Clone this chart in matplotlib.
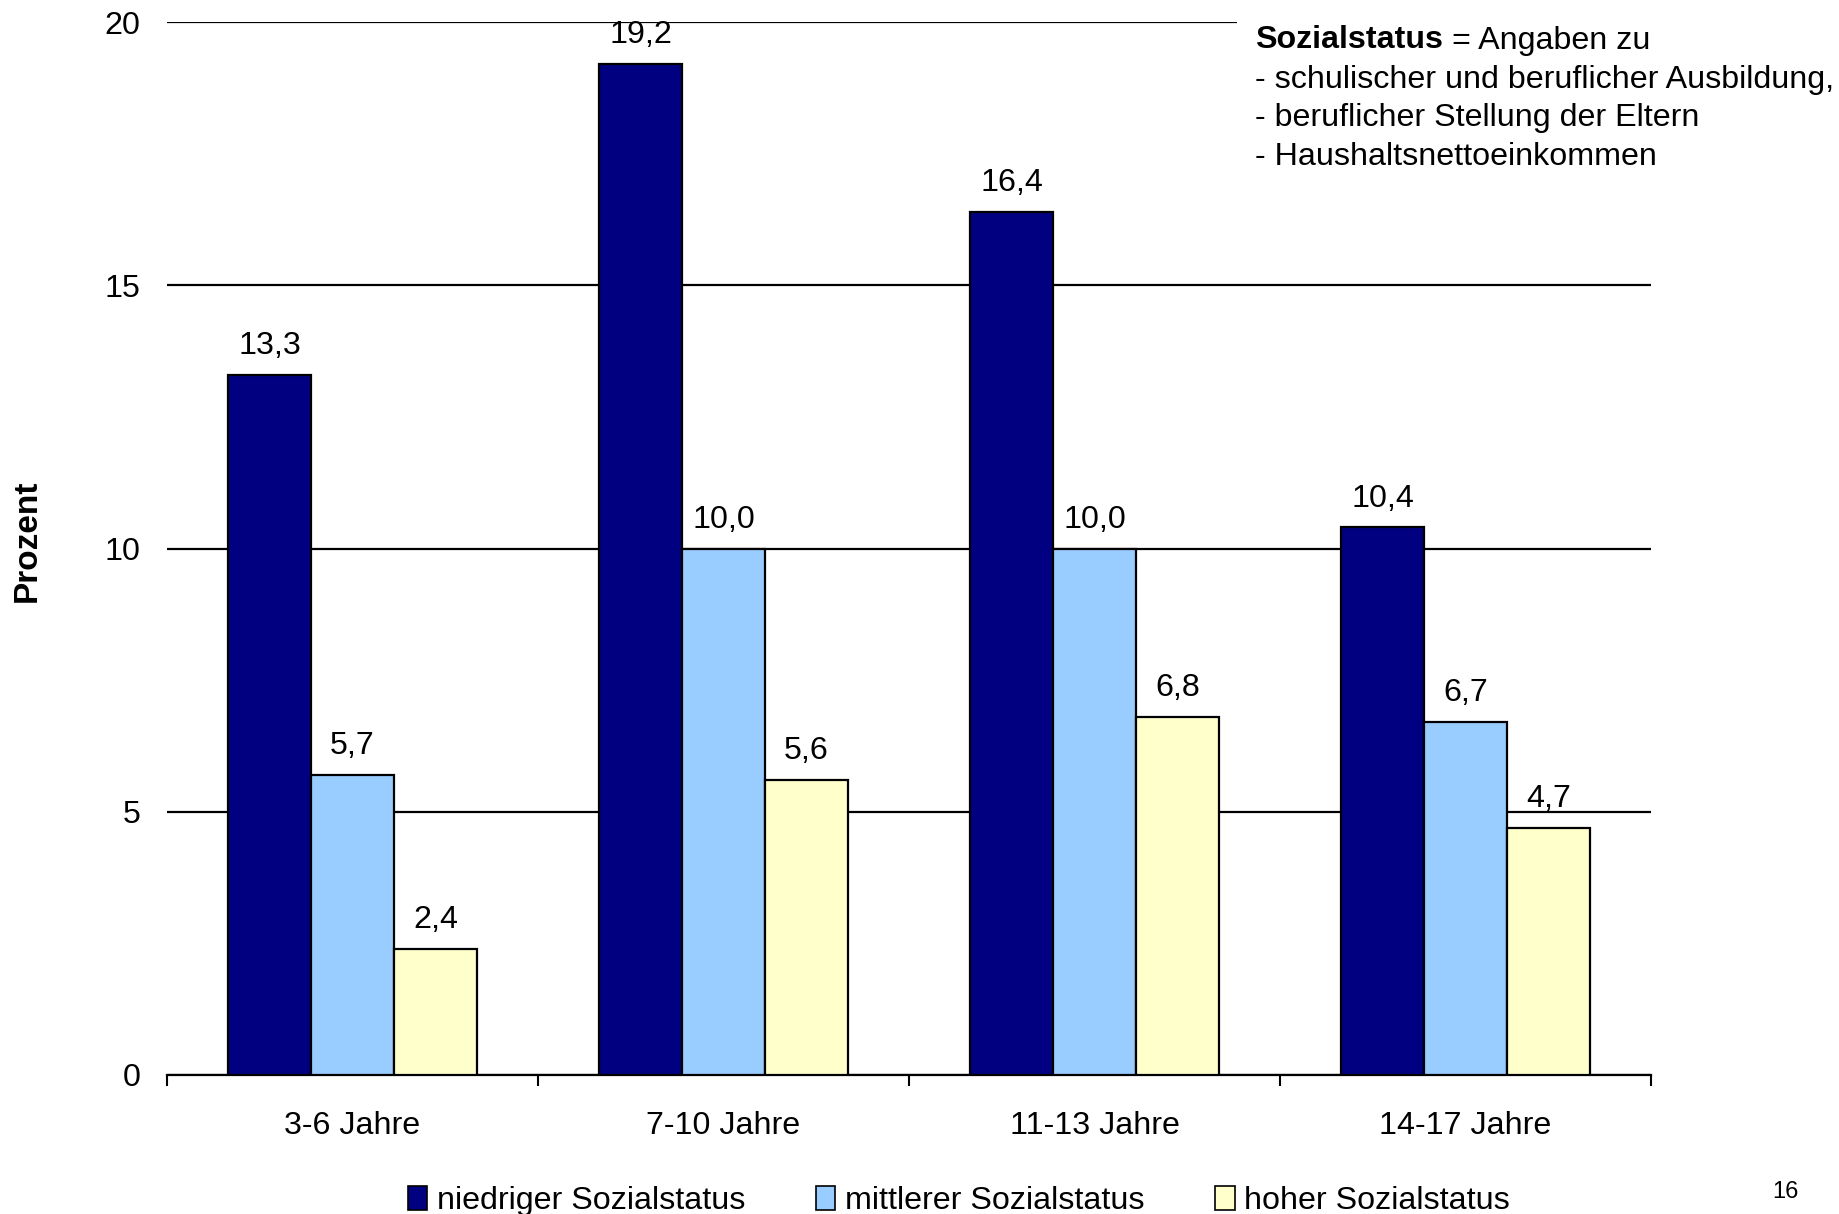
import matplotlib
matplotlib.use("Agg")
import matplotlib.pyplot as plt
from matplotlib.patches import Patch, Rectangle
import numpy as np

plt.rcParams['font.family'] = ['Liberation Sans', 'DejaVu Sans']

categories = ["3-6 Jahre", "7-10 Jahre", "11-13 Jahre", "14-17 Jahre"]
series_names = ["niedriger Sozialstatus", "mittlerer Sozialstatus", "hoher Sozialstatus"]
niedrig = [13.3, 19.2, 16.4, 10.4]
mittel = [5.7, 10.0, 10.0, 6.7]
hoch = [2.4, 5.6, 6.8, 4.7]
y_ticks = [0, 5, 10, 15, 20]
colors = ["#000080", "#99CCFF", "#FFFFCC"]

W, H = 1840, 1214
fig = plt.figure(figsize=(W / 100, H / 100), dpi=100)
ax = fig.add_axes([167 / W, 1 - 1075 / H, (1651 - 167) / W, (1075 - 22) / H])

fs = 23.2
x = np.arange(len(categories))
bar_w = 83 / 371
offsets = [-bar_w, 0, bar_w]
for vals, off, col in zip([niedrig, mittel, hoch], offsets, colors):
    bars = ax.bar(x + off, vals, width=bar_w, color=col, edgecolor="black",
                  linewidth=1.6, zorder=3)
    for b, v in zip(bars, vals):
        ax.annotate(f"{v:.1f}".replace(".", ","),
                    xy=(b.get_x() + b.get_width() / 2, v),
                    xytext=(0, 15), textcoords="offset points",
                    ha="center", va="baseline", fontsize=fs, zorder=4)

ax.set_xlim(-0.5, len(categories) - 0.5)
ax.set_ylim(0, 20)
ax.set_yticks(y_ticks)
ax.set_yticklabels([str(t) for t in y_ticks], fontsize=fs)
ax.yaxis.grid(True, color="black", linewidth=1.6, zorder=0)
ax.set_axisbelow(True)
ax.tick_params(axis="y", length=0, pad=19)

# category boundaries as minor ticks, labels centred at major positions
ax.set_xticks(x)
ax.set_xticklabels(categories, fontsize=fs)
ax.set_xticks(np.arange(-0.5, len(categories)), minor=True)
ax.tick_params(axis="x", which="major", length=0, pad=26)
ax.tick_params(axis="x", which="minor", length=8, width=1.5, color="black")

for s in ["top", "right", "left"]:
    ax.spines[s].set_visible(False)
ax.spines["bottom"].set_linewidth(1.6)

fig.text(27 / W, 1 - 541 / H, "Prozent", rotation=90, fontsize=24,
         fontweight="bold", ha="center", va="center")

# explanatory note in the upper right corner
fig.add_artist(Rectangle((1237 / W, 1 - 175 / H), (W - 1237) / W, 175 / H,
                         transform=fig.transFigure, facecolor="white",
                         edgecolor="none", zorder=1))
line_y = [40.5, 80, 118, 157]
t1 = fig.text(1255 / W, 1 - line_y[0] / H, "Sozialstatus", fontsize=fs,
              fontweight="bold", ha="left", va="center", zorder=3)
fig.add_artist(plt.Annotation(" = Angaben zu", xy=(1, 0.5), xycoords=t1,
                              va="center", ha="left", fontsize=fs, zorder=3))
note_lines = ["- schulischer und beruflicher Ausbildung,",
              "- beruflicher Stellung der Eltern",
              "- Haushaltsnettoeinkommen"]
for yy, txt in zip(line_y[1:], note_lines):
    fig.text(1255 / W, 1 - yy / H, txt, fontsize=fs, ha="left", va="center",
             zorder=3)

handles = [Patch(facecolor=c, edgecolor="black", linewidth=1.2) for c in colors]
fig.legend(handles, series_names, loc="center", ncol=3,
           bbox_to_anchor=(959 / W, 1 - 1201 / H), frameon=False,
           fontsize=fs, handlelength=0.6, handleheight=0.8,
           handletextpad=0.3, columnspacing=2.2, borderpad=0, borderaxespad=0)

fig.text(1785 / W, 1 - 1192 / H, "16", fontsize=17, ha="center", va="center")

fig.savefig("out.png", dpi=100)
